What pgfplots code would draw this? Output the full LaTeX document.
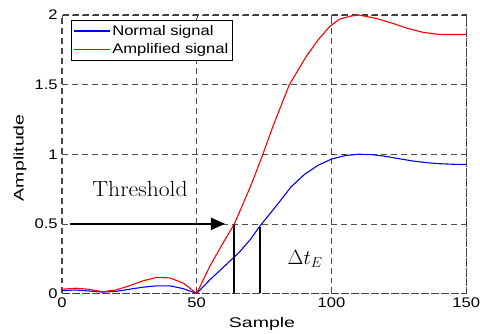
\documentclass[border=0pt]{standalone}
\usepackage{fontspec}
\setmainfont[FakeStretch=1.19]{Liberation Sans}
\newfontfamily\labelfont[FakeStretch=1.4]{Liberation Sans}
\newfontfamily\lmr[FakeStretch=1.08]{Latin Modern Roman}
\usepackage{pgfplots}
\pgfplotsset{compat=1.18}
\usetikzlibrary{arrows.meta}
\begin{document}
\begin{tikzpicture}
\begin{axis}[
  scale only axis, width=405bp, height=279bp,
  xmin=0, xmax=150, ymin=0, ymax=2,
  xtick={0,50,100,150}, ytick={0,0.5,1,1.5,2},
  yticklabels={0,0.5,1,1.5,2},
  /pgf/number format/assume math mode=true,
  ticklabel style={font=\fontsize{14}{15}\selectfont, inner sep=0pt},
  xticklabel style={anchor=north, yshift=-4bp},
  yticklabel style={anchor=east, xshift=-4bp},
  grid=major,
  grid style={black!70, dash pattern=on 6bp off 4bp, line width=0.6bp},
  axis line style={black!75, dash pattern=on 6bp off 4bp, line width=1.1bp},
  tick style={black!70},
  tick align=inside, major tick length=3bp,
  xlabel={Sample}, ylabel={Amplitude},
  label style={font=\labelfont\fontsize{14}{15}\selectfont},
  xlabel style={at={(axis description cs:0.5,0)}, anchor=base, yshift=-34bp, xshift=-2bp},
  ylabel style={at={(axis description cs:0,0.5)}, anchor=center, yshift=42bp, xshift=-3.5bp},
  legend style={at={(axis description cs:0,1)}, anchor=north west, xshift=9bp, yshift=-5bp,
    font=\fontsize{14}{15}\selectfont, draw=black, line width=0.6bp, inner xsep=2bp, inner ysep=3bp,
    row sep=3bp, cells={anchor=west}},
  legend image code/.code={\draw[#1, line width=1.2bp] (0bp,0bp) -- (36bp,0bp);},
]
\addplot[blue, line width=1.1bp] coordinates {
(0,0.02) (5,0.025) (10,0.018) (15,0.01) (20,0.015) (25,0.03) (30,0.045) (35,0.055) (40,0.055) (45,0.035) (50,0.0)
(55,0.10) (60,0.19) (66,0.30) (70,0.39) (73.3,0.48) (80,0.64) (85,0.765) (90,0.855) (95,0.92) (100,0.965)
(105,0.99) (110,1.0) (115,0.997) (120,0.985) (125,0.968) (130,0.952) (135,0.94) (140,0.932) (145,0.928) (150,0.926)
};
\addlegendentry{Normal signal}
\addplot[red, line width=1.1bp] coordinates {
(0,0.03) (5,0.038) (10,0.03) (15,0.012) (20,0.025) (25,0.055) (30,0.09) (35,0.115) (40,0.112) (45,0.075) (50,0.0)
(55,0.20) (60,0.37) (64,0.50) (70,0.77) (74,0.97) (78.3,1.2) (84.4,1.5) (90.6,1.70) (95,1.82) (99.3,1.916)
(103,1.97) (106.7,1.99) (110,2.0) (116.5,1.976) (122.7,1.94) (128,1.905) (133.8,1.876) (140,1.86) (145,1.86) (150,1.86)
};
\addlegendentry{Amplified signal}
\addplot[black, line width=2.2bp, forget plot] coordinates {(64,0) (64,0.49)};
\addplot[black, line width=2.2bp, forget plot] coordinates {(73.5,0) (73.5,0.48)};
\addplot[black, line width=2bp, -{Triangle[length=14bp,width=12bp]}, forget plot] coordinates {(3,0.5) (60.5,0.5)};
\node[anchor=base, inner sep=0pt, font=\lmr\fontsize{22}{24}\selectfont] at (axis cs:29,0.695) {Threshold};
\node[anchor=base west, inner sep=0pt, font=\fontsize{20}{22}\selectfont] at (axis cs:83.7,0.208) {$\Delta t_{E}$};
\end{axis}
\path[use as bounding box] (current axis.south west) ++(-62bp,-37bp) rectangle ++(480bp,331bp);
\end{tikzpicture}
\end{document}
